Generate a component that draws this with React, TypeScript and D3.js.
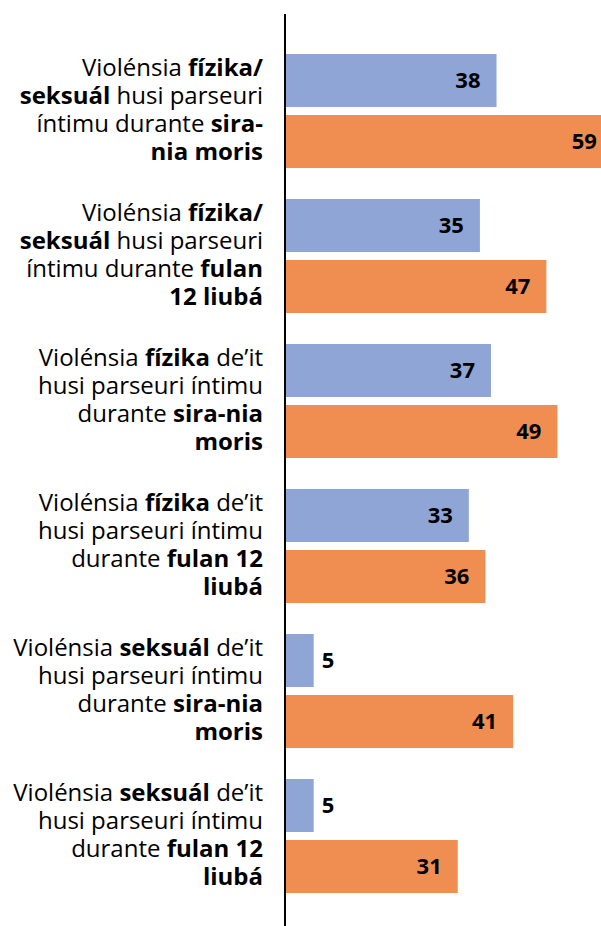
import React from "react";
import * as d3 from "d3";

const categories = ["g1", "g2", "g3", "g4", "g5", "g6"];
const series = ["a", "b"];
const valuesA = [38, 35, 37, 33, 5, 5];
const valuesB = [59, 47, 49, 36, 41, 31];
const colors = ["#8EA5D6", "#F08E51"];

type Seg = [string, boolean];
const labelLines: Seg[][][] = [
  [[["Violénsia ", false], ["fízika/", true]], [["seksuál", true], [" husi parseuri", false]], [["íntimu durante ", false], ["sira-", true]], [["nia moris", true]]],
  [[["Violénsia ", false], ["fízika/", true]], [["seksuál", true], [" husi parseuri", false]], [["íntimu durante ", false], ["fulan", true]], [["12 liubá", true]]],
  [[["Violénsia ", false], ["fízika", true], [" de’it", false]], [["husi parseuri íntimu", false]], [["durante ", false], ["sira-nia", true]], [["moris", true]]],
  [[["Violénsia ", false], ["fízika", true], [" de’it", false]], [["husi parseuri íntimu", false]], [["durante ", false], ["fulan 12", true]], [["liubá", true]]],
  [[["Violénsia ", false], ["seksuál", true], [" de’it", false]], [["husi parseuri íntimu", false]], [["durante ", false], ["sira-nia", true]], [["moris", true]]],
  [[["Violénsia ", false], ["seksuál", true], [" de’it", false]], [["husi parseuri íntimu", false]], [["durante ", false], ["fulan 12", true]], [["liubá", true]]],
];

export default function App() {
  const W = 601, H = 926;
  const x = d3.scaleLinear().domain([0, 60]).range([286, 618.4]);
  const y = d3.scaleBand().domain(categories).range([38.5, 908.5]);
  const sub = d3.scaleBand().domain(series).range([15.5, 129.5]).paddingInner(8 / 61);
  const font = "'Open Sans', sans-serif";
  const lineH = 28;
  return (
    <svg width={W} height={H} style={{ position: "absolute", left: 0, top: 0 }} fontFamily={font}>
      {categories.map((c, i) => {
        const vals = [valuesA[i], valuesB[i]];
        const y0 = y(c)!;
        const cy = y0 + y.bandwidth() / 2;
        const lines = labelLines[i];
        const startY = cy - ((lines.length - 1) * lineH) / 2 + 6.5;
        return (
          <g key={c}>
            {series.map((s, j) => {
              const v = vals[j];
              const by = y0 + sub(s)!;
              const bw = sub.bandwidth();
              const xe = x(v);
              const inside = v >= 10;
              return (
                <g key={s}>
                  <rect x={x(0)} y={by} width={xe - x(0)} height={bw} fill={colors[j]} />
                  <text
                    x={inside ? xe - 16 : xe + 8}
                    y={by + bw / 2}
                    dy="0.36em"
                    textAnchor={inside ? "end" : "start"}
                    fontSize={22}
                    fontWeight="bold"
                    fill="#000"
                  >
                    {v}
                  </text>
                </g>
              );
            })}
            {lines.map((segs, k) => (
              <text key={k} x={263} y={startY + k * lineH} textAnchor="end" fontSize={24} fill="#000">
                {segs.map(([t, b], m) => (
                  <tspan key={m} fontWeight={b ? "bold" : "normal"}>{t}</tspan>
                ))}
              </text>
            ))}
          </g>
        );
      })}
      <line x1={285} x2={285} y1={14} y2={H} stroke="#000" strokeWidth={2} />
    </svg>
  );
}
